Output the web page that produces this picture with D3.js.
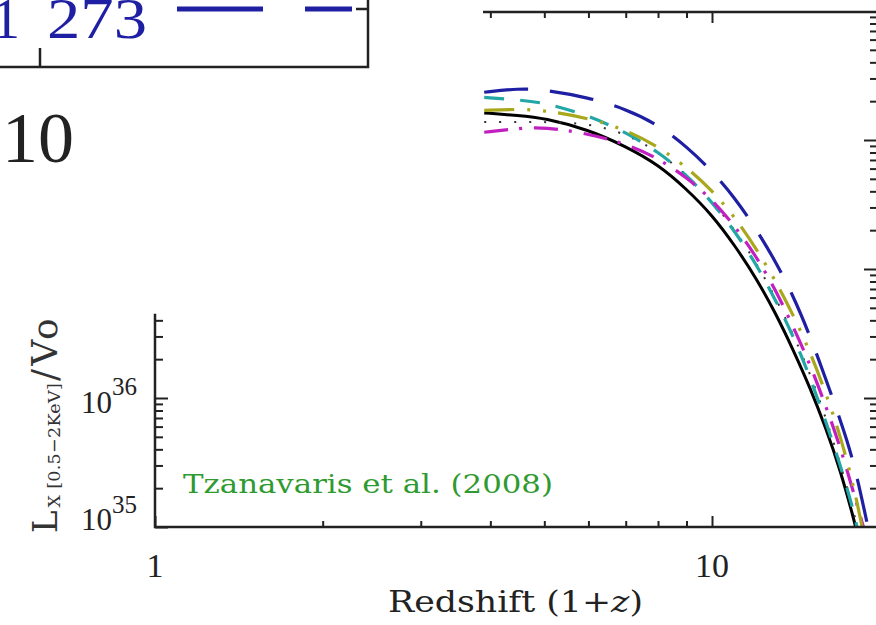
<!DOCTYPE html>
<html>
<head>
<meta charset="utf-8">
<script src="https://cdn.jsdelivr.net/npm/d3@7"></script>
<style>
  body { margin: 0; background: #fff; }
  svg { display: block; }
</style>
</head>
<body>
<div id="chart"></div>
<script>
// redshift grid (1+z) where the curves were read
var zGrid = [3.9, 4.5, 5, 6, 7, 8, 9, 10, 11, 12, 13, 14, 15, 16, 17, 18];

// log10 of L_X / Vo for each curve
var lumSolid   = [38.21, 38.19, 38.17, 38.08, 37.95, 37.81, 37.62, 37.42, 37.18, 36.93, 36.66, 36.37, 36.08, 35.77, 35.44, 35.05];
var lumDotted  = [38.14, 38.14, 38.14, 38.13, 38.05, 37.91, 37.73, 37.53, 37.30, 37.05, 36.78, 36.49, 36.19, 35.85, 35.49, 35.11];
var lumCyan    = [38.33, 38.31, 38.29, 38.19, 38.06, 37.91, 37.73, 37.52, 37.29, 37.04, 36.76, 36.48, 36.16, 35.82, 35.48, 35.11];
var lumMagenta = [38.06, 38.09, 38.10, 38.05, 37.97, 37.86, 37.71, 37.54, 37.33, 37.10, 36.84, 36.55, 36.26, 35.94, 35.62, 35.25];
var lumOlive   = [38.23, 38.24, 38.23, 38.17, 38.08, 37.95, 37.79, 37.61, 37.40, 37.16, 36.91, 36.64, 36.36, 36.04, 35.71, 35.30];
var lumBlue    = [38.37, 38.40, 38.39, 38.33, 38.24, 38.12, 37.95, 37.76, 37.55, 37.31, 37.06, 36.79, 36.48, 36.15, 35.83, 35.50];

// where each curve reaches the bottom of the plot (1e35), same order as below
var zAtFloor = [18.1, 18.2, 18.2, 18.7, 18.6, 19.05];

var seriesNames = ["solid", "dotted", "cyan", "magenta", "olive", "blue"];
var seriesColors = ["#000000", "#333333", "#22a6a6", "#c21fc2", "#a9a81c", "#1f1fa3"];
var seriesDash = ["none", "2,13", "20,16", "24,11,3,12", "30,13,3,13,3,12", "44,22"];
var seriesLum = [lumSolid, lumDotted, lumCyan, lumMagenta, lumOlive, lumBlue];

var xTickLabels = ["1", "10"];
var yTickExp = ["35", "36"];

var WIDTH = 876,
	HEIGHT = 625;

var xScale = d3.scaleLog().domain([1, 10]).range([155, 712]);
var yScale = d3.scaleLog().domain([1e35, 1e39]).range([527, 11]);

var svg = d3.select("#chart").append("svg")
	.attr("width", WIDTH)
	.attr("height", HEIGHT);

svg.append("defs").append("clipPath").attr("id", "plotclip")
	.append("rect")
	.attr("x", 155).attr("y", 11)
	.attr("width", WIDTH - 155).attr("height", 527 - 11);

// curves (basis spline to smooth out reading noise)
var lineGen = d3.line()
	.x(function(d) { return xScale(d.z); })
	.y(function(d) { return yScale(d.l); })
	.curve(d3.curveBasis);

seriesNames.forEach(function(name, i) {
	var pts = zGrid.map(function(z, j) { return {z: z, l: Math.pow(10, seriesLum[i][j])}; });
	pts.push({z: zAtFloor[i], l: 1e35});
	svg.append("path")
		.datum(pts)
		.attr("class", "line " + name)
		.attr("clip-path", "url(#plotclip)")
		.attr("d", lineGen)
		.attr("fill", "none")
		.attr("stroke", seriesColors[i])
		.attr("stroke-width", name == "dotted" ? 2 : (name == "solid" ? 3 : 3.2))
		.attr("stroke-dasharray", seriesDash[i]);
});

// tick positions
var xMinor = [2, 3, 4, 5, 6, 7, 8, 9];
var yMinorLeft = [];
var yMinorRight = [];
[1e35, 1e36, 1e37, 1e38].forEach(function(dec) {
	for (var m = 2; m <= 9; m++) {
		yMinorRight.push(m * dec);
		if (m * dec <= 4.2e36) yMinorLeft.push(m * dec);
	}
});

function ticks(g, axis, values, size) {
	g.call(axis.tickValues(values).tickSize(size).tickFormat(""))
		.call(function(s) { s.select(".domain").remove(); });
	g.selectAll("line").attr("stroke", "#222").attr("stroke-width", 2);
}

// bottom axis
svg.append("g").attr("transform", "translate(0,527)")
	.call(ticks, d3.axisBottom(xScale), [1, 10], -11);
svg.append("g").attr("transform", "translate(0,527)")
	.call(ticks, d3.axisBottom(xScale), xMinor, -6);
// top axis (only the visible part)
svg.append("g").attr("transform", "translate(0,12)")
	.call(ticks, d3.axisTop(xScale), [10], -11);
svg.append("g").attr("transform", "translate(0,12)")
	.call(ticks, d3.axisTop(xScale), xMinor.filter(function(v) { return v >= 4; }), -6);
// left axis
svg.append("g").attr("transform", "translate(155,0)")
	.call(ticks, d3.axisLeft(yScale), [1e35, 1e36], -13);
svg.append("g").attr("transform", "translate(155,0)")
	.call(ticks, d3.axisLeft(yScale), yMinorLeft, -8);
// right axis
svg.append("g").attr("transform", "translate(877,0)")
	.call(ticks, d3.axisRight(yScale), [1e36, 1e37, 1e38], -13);
svg.append("g").attr("transform", "translate(877,0)")
	.call(ticks, d3.axisRight(yScale), yMinorRight, -7);

// frame lines
var frame = svg.append("g").attr("stroke", "#222").attr("stroke-width", 2.5).attr("fill", "none");
frame.append("path").attr("d", "M" + xScale(1) + "," + yScale(4.5e36) + "V" + yScale(1e35) + "H" + WIDTH);
frame.append("path").attr("d", "M" + xScale(3.88) + "," + (yScale(1e39) + 1) + "H" + WIDTH);

// x tick labels
svg.selectAll(".xlab").data(xTickLabels).enter().append("text")
	.attr("class", "xlab")
	.attr("x", function(d) { return xScale(+d); })
	.attr("y", 577)
	.attr("text-anchor", "middle")
	.style("font", "34px 'Liberation Serif'")
	.attr("fill", "#222")
	.text(function(d) { return d; });

// y tick labels (10^35, 10^36)
yTickExp.forEach(function(e) {
	var yy = yScale(Math.pow(10, +e));
	svg.append("text")
		.attr("x", 112).attr("y", yy + 4 + (e == "35" ? -1 : 11))
		.attr("text-anchor", "end")
		.style("font", "31px 'Liberation Serif'")
		.attr("fill", "#222")
		.text("10");
	svg.append("text")
		.attr("x", 112).attr("y", yy - 14 + (e == "35" ? 0 : 11))
		.style("font", "25px 'Liberation Serif'")
		.attr("fill", "#222")
		.text(e);
});

// axis titles
svg.append("text")
	.attr("x", 388).attr("y", 612)
	.attr("textLength", 255)
	.attr("lengthAdjust", "spacingAndGlyphs")
	.style("font", "30px 'DejaVu Serif'")
	.attr("fill", "#222")
	.html("Redshift (1+<tspan font-style='italic'>z</tspan>)");

var ylab = svg.append("text")
	.attr("transform", "translate(57,533) rotate(-90)")
	.style("font-family", "'DejaVu Serif'")
	.attr("fill", "#333");
ylab.append("tspan").style("font-size", "34px").text("L");
ylab.append("tspan").style("font-size", "17.5px").style("letter-spacing", "0.3px")
	.attr("dy", 3).attr("dx", 3).text("X [0.5\u22122KeV]");
ylab.append("tspan").style("font-size", "36px").style("letter-spacing", "3px")
	.attr("dy", -3).attr("dx", 2).text("/Vo");

// reference note
svg.append("text")
	.attr("x", 183).attr("y", 493)
	.attr("textLength", 370)
	.attr("lengthAdjust", "spacingAndGlyphs")
	.style("font", "26px 'DejaVu Serif'")
	.attr("fill", "#2f9a2f")
	.text("Tzanavaris et al. (2008)");

// fragment of the overlapping panel at the top left
var frag = svg.append("g");
frag.append("path")
	.attr("d", "M0,67H368V0M40,67V48M368,9H356")
	.attr("fill", "none").attr("stroke", "#222").attr("stroke-width", 2.5);
frag.append("line")
	.attr("x1", 177).attr("x2", 352).attr("y1", 9).attr("y2", 9)
	.attr("stroke", seriesColors[5]).attr("stroke-width", 5)
	.attr("stroke-dasharray", "86,42");
frag.append("text").attr("x", -8).attr("y", 38)
	.style("font", "56px 'Liberation Serif'").attr("fill", "#1f1fa3").text("1");
frag.append("text").attr("x", 47).attr("y", 38)
	.attr("textLength", 100).attr("lengthAdjust", "spacingAndGlyphs")
	.style("font", "56px 'Liberation Serif'").attr("fill", "#1f1fa3").text("273");
frag.append("text").attr("x", 2).attr("y", 162)
	.style("font", "72px 'Liberation Serif'").attr("fill", "#222").text("10");
</script>
</body>
</html>
